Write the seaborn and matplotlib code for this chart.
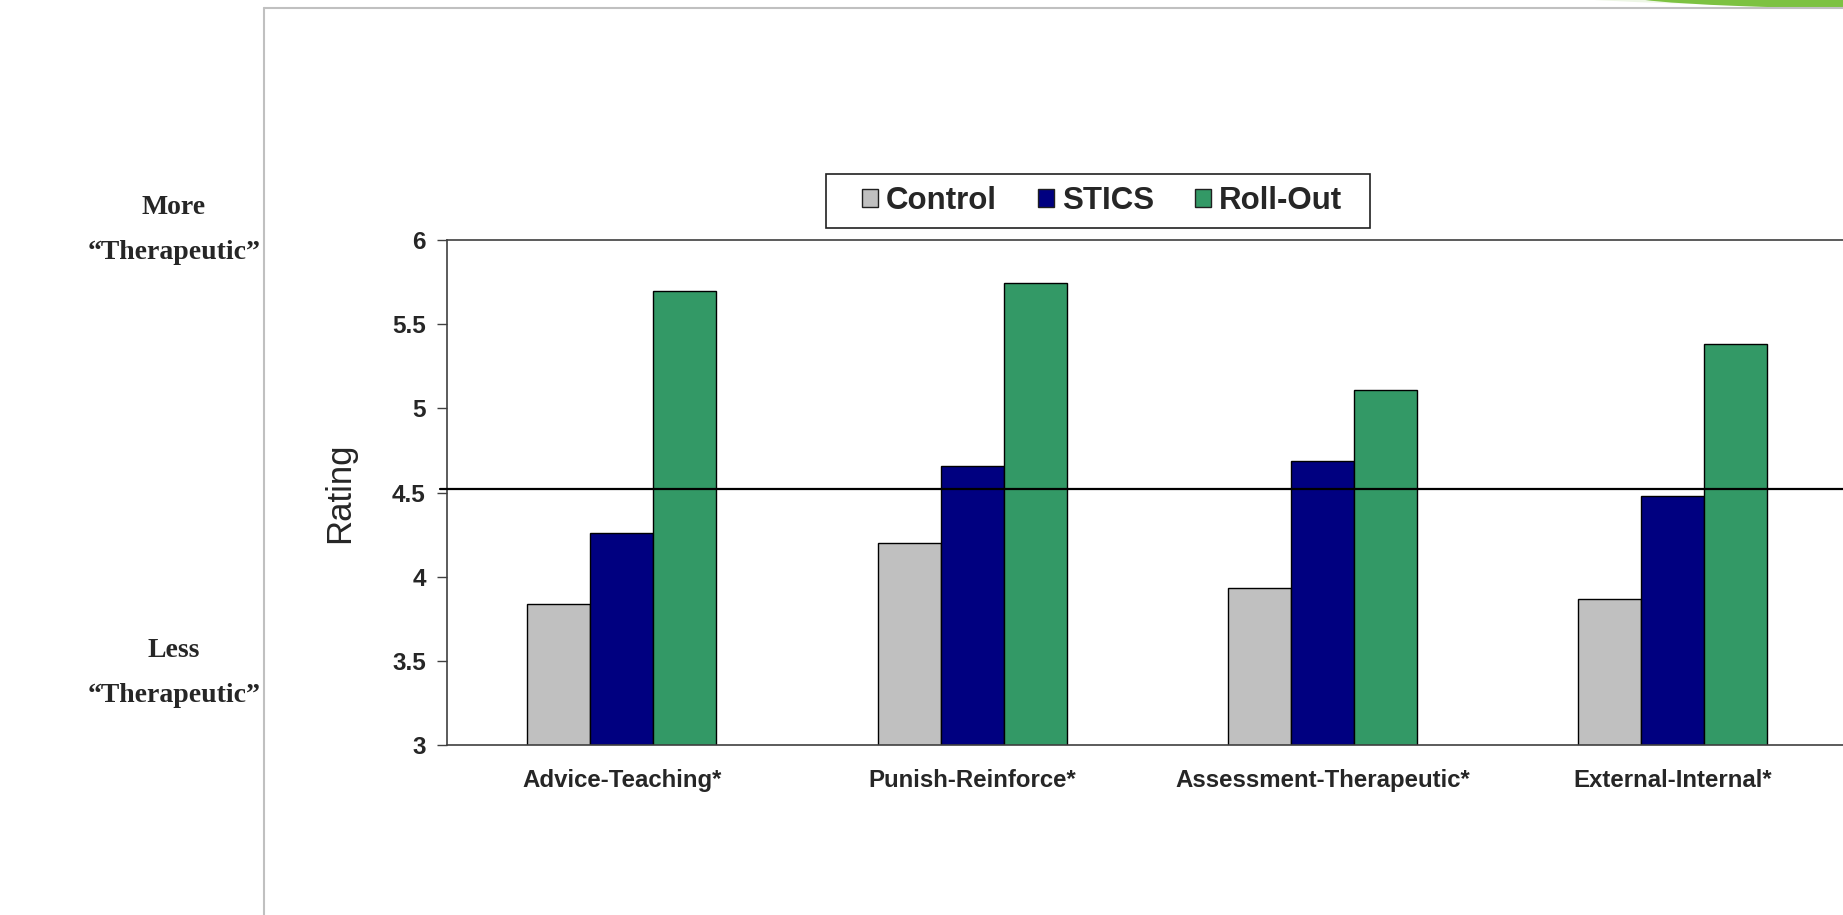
import matplotlib
matplotlib.use("Agg")
import matplotlib.pyplot as plt
from matplotlib.lines import Line2D
from matplotlib.patches import Ellipse, Patch, Rectangle
import pandas as pd
import seaborn as sns

# Mean ratings per rating scale and group
categories = ["Advice-Teaching*", "Punish-Reinforce*", "Assessment-Therapeutic*", "External-Internal*"]
groups = ["Control", "STICS", "Roll-Out"]
control = [3.84, 4.20, 3.93, 3.87]
stics = [4.26, 4.655, 4.69, 4.48]
roll_out = [5.70, 5.745, 5.11, 5.38]
midpoint = 4.52
y_ticks = [3, 3.5, 4, 4.5, 5, 5.5, 6]
y_tick_labels = ["3", "3.5", "4", "4.5", "5", "5.5", "6"]

palette = {"Control": "#C0C0C0", "STICS": "#000080", "Roll-Out": "#339966"}

df = pd.DataFrame({
    "Scale": categories * 3,
    "Group": [g for g in groups for _ in categories],
    "Rating": control + stics + roll_out,
})

sns.set_theme(style="white")
plt.rcParams["font.family"] = ["Liberation Sans", "DejaVu Sans"]

W, H = 1843, 915
fig = plt.figure(figsize=(W / 100, H / 100), dpi=100)
fig.patch.set_facecolor("white")

left_px, right_px, top_px, bottom_px = 446.6, 1848.0, 240.0, 745.0
ax = fig.add_axes([left_px / W, 1 - bottom_px / H,
                   (right_px - left_px) / W, (bottom_px - top_px) / H])

sns.barplot(data=df, x="Scale", y="Rating", hue="Group", order=categories,
            hue_order=groups, palette=palette, width=0.54, gap=0,
            edgecolor="black", linewidth=1.0, saturation=1, ax=ax, legend=False)

ax.set_xlim(-0.5, len(categories) - 0.5)
ax.set_ylim(3, 6)
ax.set_yticks(y_ticks)
ax.set_yticklabels(y_tick_labels, fontsize=17.5, fontweight="bold")
ax.set_xticks(range(len(categories)))
ax.set_xticklabels(categories, fontsize=17.3, fontweight="bold")
ax.set_xticks([i - 0.5 for i in range(len(categories) + 1)], minor=True)
ax.tick_params(axis="x", which="major", length=0, pad=17.5)
ax.tick_params(axis="x", which="minor", length=9, width=1.0, color="#404040", direction="out")
ax.tick_params(axis="y", which="major", length=7, width=1.0, color="#404040", direction="out", pad=8, left=True)
ax.set_xlabel("")
ax.set_ylabel("Rating", fontsize=25, labelpad=26)

for side in ["left", "bottom", "top"]:
    ax.spines[side].set_visible(True)
    ax.spines[side].set_color("#404040")
    ax.spines[side].set_linewidth(1.2)
ax.spines["right"].set_visible(False)

# Scale midpoint
ax.axhline(midpoint, xmin=-0.005, xmax=1, color="black", linewidth=1.6, zorder=5, clip_on=False)

# Legend, with a wider box drawn around its entries
handles = [Patch(facecolor=palette[g], edgecolor="#202020", linewidth=1.0) for g in groups]
leg = fig.legend(handles, groups, ncol=3, loc="center",
                 bbox_to_anchor=(1102 / W, 1 - 201 / H),
                 frameon=False, prop={"weight": "bold", "size": 22.5},
                 handlelength=0.52, handleheight=0.52, handletextpad=0.25,
                 columnspacing=1.3, borderpad=0.0, borderaxespad=0)
fig.add_artist(Rectangle((826, H - 228), 544, 54, transform=None, fill=False,
                         edgecolor="#202020", linewidth=1.2))

# Side annotations
serif = ["Liberation Serif", "DejaVu Serif"]
for label, yc in [("More\n\u201cTherapeutic\u201d", 230), ("Less\n\u201cTherapeutic\u201d", 673)]:
    fig.text(174 / W, 1 - yc / H, label, ha="center", va="center",
             fontsize=20, fontweight="bold", family=serif, linespacing=2.05)

# Slide frame lines and corner accent
fig.add_artist(Line2D([264 / W, 264 / W], [0, 1 - 8 / H], transform=fig.transFigure,
                      color="#c0c0c0", linewidth=1.5))
fig.add_artist(Line2D([264 / W, 1], [1 - 8 / H, 1 - 8 / H], transform=fig.transFigure,
                      color="#c0c0c0", linewidth=1.5))
fig.add_artist(Ellipse((1950, H + 6), 800, 26, transform=None,
                       facecolor="#e2f0d4", edgecolor="none", alpha=0.6))
fig.add_artist(Ellipse((1990, H + 4), 720, 28, transform=None,
                       facecolor="#7dc242", edgecolor="none"))

fig.savefig("out.png", dpi=100, facecolor="white")
